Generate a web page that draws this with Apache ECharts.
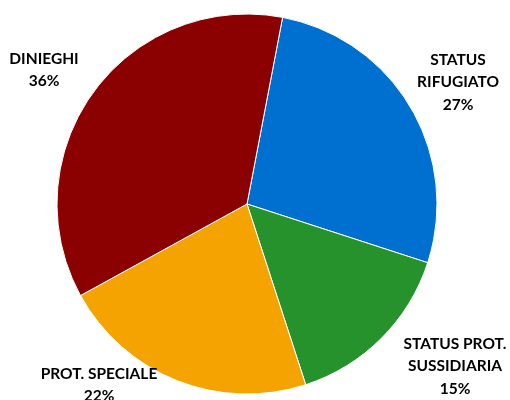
<!DOCTYPE html>
<html>
<head>
<meta charset="utf-8">
<script src="https://cdn.jsdelivr.net/npm/echarts@6/dist/echarts.min.js"></script>
<style>
html,body{margin:0;padding:0;background:#fff;}
#c{width:510px;height:400px;}
</style>
</head>
<body>
<div id="c"></div>
<script>
const categories = ['STATUS\nRIFUGIATO', 'STATUS PROT.\nSUSSIDIARIA', 'PROT. SPECIALE', 'DINIEGHI'];
const values = [27, 15, 22, 36];
const colors = ['#0070D0', '#26922C', '#F5A300', '#8B0000'];
// label anchor points (centre of text block)
const labelPos = [[458, 82], [455, 366], [99, 385], [44, 70]];

const chart = echarts.init(document.getElementById('c'), null, {renderer: 'canvas'});
chart.setOption({
  animation: false,
  backgroundColor: '#fff',
  series: [{
    type: 'pie',
    center: [247, 204],
    radius: 190,
    startAngle: 79.2,
    clockwise: true,
    data: categories.map((n, i) => ({name: n, value: values[i], itemStyle: {color: colors[i]}})),
    itemStyle: {borderColor: '#fff', borderWidth: 1},
    label: {
      show: true,
      position: 'outside',
      formatter: '{b}\n{d}%',
      color: '#000',
      fontFamily: 'Lato',
      fontWeight: 'bold',
      fontSize: 15.5,
      lineHeight: 22.5,
      align: 'center',
      width: 200,
      overflow: 'none'
    },
    labelLine: {show: false},
    labelLayout: function (p) {
      const pos = labelPos[p.dataIndex];
      return {x: pos[0], y: pos[1], align: 'center', verticalAlign: 'middle', hideOverlap: false};
    }
  }]
});
</script>
</body>
</html>
